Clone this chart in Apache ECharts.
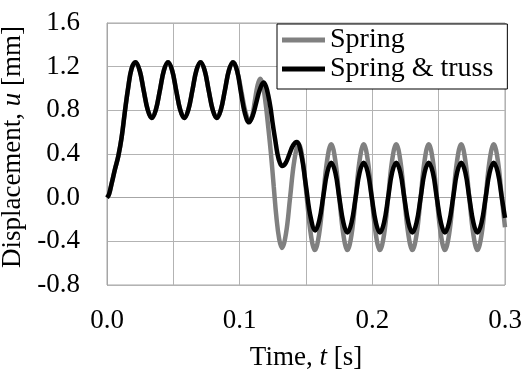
<!DOCTYPE html>
<html>
<head>
<meta charset="utf-8">
<script src="https://cdn.jsdelivr.net/npm/echarts@6/dist/echarts.min.js"></script>
<style>
html,body{margin:0;padding:0;background:#fff;}
#chart{width:525px;height:373px;}
</style>
</head>
<body>
<div id="chart"></div>
<script>
// Values: time t [s], displacement u [mm]
// Common part (both curves coincide up to ~0.098 s)
var tCommon = [0, 0.0015, 0.0035, 0.006, 0.0085, 0.011, 0.0135, 0.016, 0.0185, 0.0215,
  0.0246, 0.0276, 0.0307, 0.0337, 0.0368, 0.0399, 0.0429, 0.046,
  0.0491, 0.0521, 0.0552, 0.0582, 0.0613, 0.0644, 0.0674, 0.0705,
  0.0736, 0.0766, 0.0797, 0.0827, 0.0858, 0.0889, 0.0919, 0.095, 0.0981];
var uCommon = [0, 0.03, 0.13, 0.26, 0.38, 0.55, 0.79, 1.01, 1.18, 1.24,
  1.165, 0.985, 0.805, 0.73, 0.805, 0.985, 1.165, 1.24,
  1.165, 0.985, 0.805, 0.73, 0.805, 0.985, 1.165, 1.24,
  1.165, 0.985, 0.805, 0.73, 0.805, 0.985, 1.165, 1.24, 1.16];

// "Spring" after 0.098 s
var tSpringTail = [0.1012, 0.1043, 0.1075, 0.1095, 0.1115, 0.1135, 0.1155,
  0.1175, 0.1196, 0.1216, 0.1236, 0.1257, 0.1277, 0.1298, 0.1318,
  0.1349, 0.138, 0.1412, 0.1445,
  0.1476, 0.1506, 0.1537, 0.1567, 0.1598, 0.1629, 0.1659, 0.169,
  0.1721, 0.1751, 0.1782, 0.1812, 0.1843, 0.1874, 0.1904, 0.1935,
  0.1966, 0.1996, 0.2027, 0.2057, 0.2088, 0.2119, 0.2149, 0.218,
  0.2211, 0.2241, 0.2272, 0.2302, 0.2333, 0.2364, 0.2394, 0.2425,
  0.2456, 0.2486, 0.2517, 0.2547, 0.2578, 0.2609, 0.2639, 0.267,
  0.2701, 0.2731, 0.2762, 0.2792, 0.2823, 0.2854, 0.2884, 0.2915,
  0.2946, 0.2976, 0.3];
var uSpringTail = [0.98, 0.79, 0.70, 0.75, 0.89, 1.03, 1.09,
  1.03, 0.86, 0.64, 0.40, 0.10, -0.18, -0.38, -0.46,
  -0.33, 0.0, 0.34, 0.49,
  0.34, 0.0, -0.34, -0.48, -0.34, 0.0, 0.34, 0.49,
  0.34, 0.0, -0.34, -0.48, -0.34, 0.0, 0.34, 0.49,
  0.34, 0.0, -0.34, -0.48, -0.34, 0.0, 0.34, 0.49,
  0.34, 0.0, -0.34, -0.48, -0.34, 0.0, 0.34, 0.49,
  0.34, 0.0, -0.34, -0.48, -0.34, 0.0, 0.34, 0.49,
  0.34, 0.0, -0.34, -0.48, -0.34, 0.0, 0.34, 0.49,
  0.34, 0.0, -0.27];

// "Spring & truss" after 0.098 s
var tTrussTail = [0.101, 0.104, 0.107, 0.1098, 0.1125, 0.1152, 0.118,
  0.1198, 0.1215, 0.1233, 0.125, 0.1268, 0.1285, 0.1303, 0.132,
  0.1348, 0.1375, 0.1403, 0.143,
  0.1465, 0.150, 0.1535, 0.157, 0.160, 0.163, 0.166, 0.169,
  0.1721, 0.1751, 0.1782, 0.1812, 0.1843, 0.1874, 0.1904, 0.1935,
  0.1966, 0.1996, 0.2027, 0.2057, 0.2088, 0.2119, 0.2149, 0.218,
  0.2211, 0.2241, 0.2272, 0.2302, 0.2333, 0.2364, 0.2394, 0.2425,
  0.2456, 0.2486, 0.2517, 0.2547, 0.2578, 0.2609, 0.2639, 0.267,
  0.2701, 0.2731, 0.2762, 0.2792, 0.2823, 0.2854, 0.2884, 0.2915,
  0.2946, 0.2976, 0.3];
var uTrussTail = [0.96, 0.77, 0.69, 0.75, 0.87, 0.99, 1.055,
  1.02, 0.94, 0.82, 0.67, 0.53, 0.40, 0.32, 0.29,
  0.32, 0.40, 0.48, 0.51,
  0.39, 0.105, -0.18, -0.30, -0.21, 0.01, 0.23, 0.32,
  0.23, 0.0, -0.23, -0.32, -0.23, 0.0, 0.23, 0.32,
  0.23, 0.0, -0.23, -0.32, -0.23, 0.0, 0.23, 0.32,
  0.23, 0.0, -0.23, -0.32, -0.23, 0.0, 0.23, 0.32,
  0.23, 0.0, -0.23, -0.32, -0.23, 0.0, 0.23, 0.32,
  0.23, 0.0, -0.23, -0.32, -0.23, 0.0, 0.23, 0.32,
  0.23, 0.0, -0.185];

var seriesNames = ['Spring', 'Spring & truss'];
var xTickLabels = ['0.0', '0.1', '0.2', '0.3'];
var yTickLabels = ['-0.8', '-0.4', '0.0', '0.4', '0.8', '1.2', '1.6'];

function zip(t, u) {
  var out = [];
  for (var i = 0; i < Math.min(t.length, u.length); i++) out.push([t[i], u[i]]);
  return out;
}
var springData = zip(tCommon, uCommon).concat(zip(tSpringTail, uSpringTail));
var trussData = zip(tCommon, uCommon).concat(zip(tTrussTail, uTrussTail));

var FONT = "'Liberation Serif', 'Times New Roman', serif";
var FS = 27;
var chart = echarts.init(document.getElementById('chart'), null, {renderer: 'canvas'});
chart.setOption({
  animation: false,
  backgroundColor: '#fff',
  textStyle: {fontFamily: FONT, color: '#000'},
  grid: {left: 107, right: 20, top: 23, bottom: 88, show: true, borderColor: '#a6a6a6', borderWidth: 1,
    containLabel: false, outerBoundsMode: 'none'},
  legend: {
    orient: 'vertical', left: 277, top: 24,
    padding: [2, 14, 6, 5], itemGap: 1,
    itemWidth: 43, itemHeight: 5, icon: 'rect',
    backgroundColor: '#fff', borderColor: '#000', borderWidth: 1, borderRadius: 0,
    textStyle: {fontFamily: FONT, fontSize: 28, color: '#000', lineHeight: 28},
    data: seriesNames
  },
  xAxis: {
    type: 'value', min: 0, max: 0.3, interval: 0.05,
    axisLine: {show: true, lineStyle: {color: '#a6a6a6'}},
    axisTick: {show: false},
    splitLine: {show: true, lineStyle: {color: '#b3b3b3', width: 1}},
    axisLabel: {
      margin: 22, fontFamily: FONT, fontSize: FS, color: '#000',
      formatter: function (v) {
        var k = Math.round(v * 100);
        if (k % 10 !== 0) return '';
        return xTickLabels[k / 10];
      }
    },
    name: 'Time, {i|t} [s]', nameLocation: 'middle', nameGap: 59,
    nameTextStyle: {fontFamily: FONT, fontSize: FS, color: '#000',
      rich: {i: {fontFamily: FONT, fontSize: FS, fontStyle: 'italic', color: '#000'}}}
  },
  yAxis: {
    type: 'value', min: -0.8, max: 1.6, interval: 0.4,
    axisLine: {show: true, lineStyle: {color: '#a6a6a6'}},
    axisTick: {show: false},
    splitLine: {show: true, lineStyle: {color: '#b3b3b3', width: 1}},
    axisLabel: {
      margin: 27, fontFamily: FONT, fontSize: FS, color: '#000',
      formatter: function (v) {
        var k = Math.round((v + 0.8) / 0.4);
        return yTickLabels[k];
      }
    },
    name: 'Displacement, {i|u} [mm]', nameLocation: 'middle', nameGap: 69,
    nameTextStyle: {fontFamily: FONT, fontSize: FS, color: '#000', padding: [0, 0, 0, 14],
      rich: {i: {fontFamily: FONT, fontSize: FS, fontStyle: 'italic', color: '#000'}}}
  },
  series: [
    {name: seriesNames[0], type: 'line', data: springData, smooth: 0.4, showSymbol: false, symbol: 'none',
      color: '#808080', lineStyle: {color: '#808080', width: 4.5}, z: 2},
    {name: seriesNames[1], type: 'line', data: trussData, smooth: 0.4, showSymbol: false, symbol: 'none',
      color: '#000000', lineStyle: {color: '#000000', width: 4.5}, z: 3}
  ]
});
</script>
</body>
</html>
